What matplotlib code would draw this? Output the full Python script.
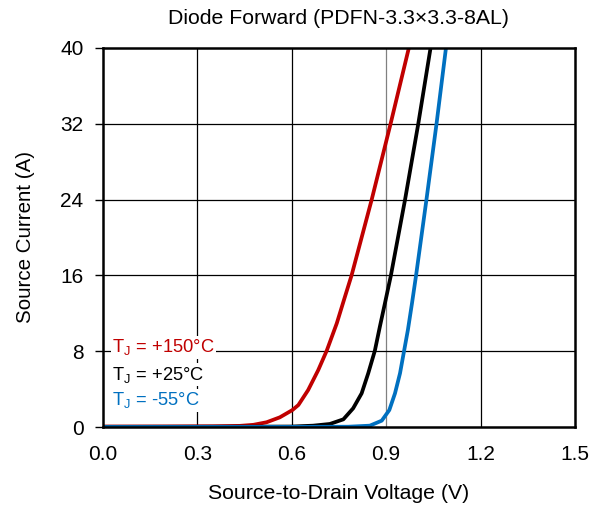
import matplotlib
matplotlib.use("Agg")
import matplotlib.pyplot as plt

plt.rcParams['font.family'] = ['Liberation Sans', 'DejaVu Sans']
plt.rcParams['mathtext.fontset'] = 'custom'
plt.rcParams['mathtext.rm'] = 'Liberation Sans'

# Data
v_150 = [0.0, 0.20, 0.35, 0.435, 0.478, 0.52, 0.562, 0.602, 0.621, 0.652, 0.684, 0.711, 0.743, 0.769, 0.790, 0.854, 0.914, 0.972]
i_150 = [0.05, 0.06, 0.08, 0.12, 0.23, 0.5, 1.02, 1.79, 2.32, 3.9, 6.0, 8.05, 10.94, 13.75, 16.0, 24.0, 32.0, 40.0]

v_25 = [0.0, 0.40, 0.60, 0.668, 0.721, 0.764, 0.795, 0.822, 0.843, 0.864, 0.880, 0.896, 0.915, 0.960, 1.002, 1.041]
i_25 = [0.02, 0.03, 0.05, 0.14, 0.32, 0.81, 1.97, 3.55, 5.67, 8.05, 10.6, 13.05, 16.0, 24.0, 32.0, 40.0]

v_m55 = [0.0, 0.60, 0.78, 0.848, 0.886, 0.910, 0.928, 0.944, 0.957, 0.969, 0.982, 0.995, 1.028, 1.060, 1.090]
i_m55 = [0.0, 0.01, 0.03, 0.14, 0.67, 1.79, 3.55, 5.67, 8.05, 10.24, 13.05, 16.0, 24.0, 32.0, 40.0]

x_ticks = [0.0, 0.3, 0.6, 0.9, 1.2, 1.5]
x_labels = ['0.0', '0.3', '0.6', '0.9', '1.2', '1.5']
y_ticks = [0, 8, 16, 24, 32, 40]

series = [
    (v_150, i_150, '#C00000', r'T$_\mathregular{J}$ = +150°C'),
    (v_25, i_25, '#000000', r'T$_\mathregular{J}$ = +25°C'),
    (v_m55, i_m55, '#0070C0', r'T$_\mathregular{J}$ = -55°C'),
]

fig = plt.figure(figsize=(5.98, 5.09), dpi=100)
ax = fig.add_axes([0.1722, 0.1611, 0.9615 - 0.1722, 0.9057 - 0.1611])

for xv in x_ticks[1:-1]:
    ax.axvline(xv, color='#808080' if abs(xv - 0.9) < 1e-6 else '#000000', lw=0.9, zorder=1)
for yv in y_ticks[1:-1]:
    ax.axhline(yv, color='#000000', lw=0.9, zorder=1)

for v, i, c, lab in series:
    ax.plot(v, i, color=c, lw=2.7, zorder=3, solid_capstyle='butt', solid_joinstyle='round')

ax.set_xlim(0, 1.5)
ax.set_ylim(0, 40)
ax.set_xticks(x_ticks)
ax.set_xticklabels(x_labels)
ax.set_yticks(y_ticks)
ax.tick_params(axis='x', length=0, pad=13, labelsize=15)
ax.tick_params(axis='y', direction='out', length=6, width=1, pad=8, labelsize=15)
for s in ax.spines.values():
    s.set_linewidth(1.8)
    s.set_zorder(4)

ax.set_xlabel('Source-to-Drain Voltage (V)', fontsize=15.3, labelpad=14)
ax.set_ylabel('Source Current (A)', fontsize=14.8, labelpad=18)
ax.set_title('Diode Forward (PDFN-3.3×3.3-8AL)', fontsize=15.3, pad=17)

ypos = [8.4, 5.5, 2.8]
for (v, i, c, lab), yp in zip(series, ypos):
    ax.text(0.03, yp, lab, color=c, fontsize=13.2, va='center', ha='left', zorder=5,
            bbox=dict(facecolor='white', edgecolor='none', pad=1.0))

fig.savefig('out.png', dpi=100)
